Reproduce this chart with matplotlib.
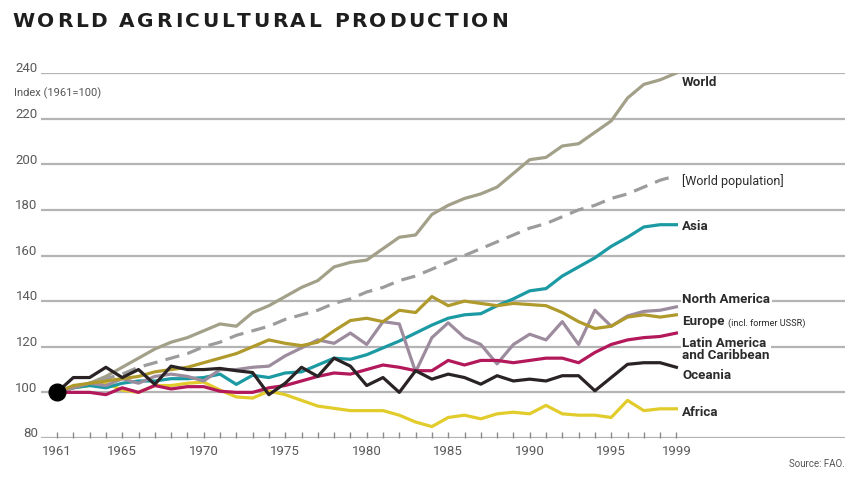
import matplotlib
matplotlib.use("Agg")
import matplotlib.pyplot as plt
import matplotlib.transforms as mtransforms

# ---------------- data ----------------
years = list(range(1961, 2000))

world = [100, 102, 104, 107, 111, 115, 119, 122, 124, 127, 130, 129, 135, 138, 142,
         146, 149, 155, 157, 158, 163, 168, 169, 178, 182, 185, 187, 190, 196, 202,
         203, 208, 209, 214, 219, 229, 235, 237, 240]

world_population = [100, 102, 104, 106, 108, 111, 113, 115, 117, 120, 122, 125, 127, 129,
                    132, 134, 136, 139, 141, 144, 146, 149, 151, 154, 157, 160, 163, 166,
                    169, 172, 174, 177, 180, 182, 185, 187, 190, 193, 195]

asia = [100, 102, 103, 102, 104, 105, 105, 106, 106, 106.5, 108, 103.5, 107.5, 106.5,
        108.5, 109, 112, 115, 114.5, 116.5, 119.5, 122.5, 126, 129.5, 132.5, 134, 134.5,
        138, 141, 144.5, 145.5, 151, 155, 159, 164, 168, 172.5, 173.5, 173.5]

north_america = [100, 102, 104, 103, 106, 104, 107, 108, 107, 105, 110, 110, 111, 111.5,
                 116, 119.5, 123, 121.5, 126, 121, 131, 130, 109, 124, 130.5, 124, 121,
                 112.5, 121, 125.5, 123, 131, 121, 136, 129, 133.5, 135.5, 136, 137.5]

europe = [100, 103, 104, 105, 106, 107, 109, 110, 111, 113, 115, 117, 120, 123, 121.5,
          120.5, 122, 127, 131.5, 132.5, 131, 136, 135, 142, 138, 140, 139, 138, 139,
          138.5, 138, 135, 131, 128, 129, 133, 134, 133, 134]

latin_america = [100, 100, 100, 99, 102, 100, 103, 101.5, 102.5, 102.5, 100.5, 100, 100,
                 102, 103, 105, 107, 108.5, 108, 110, 112, 111, 109.5, 109.5, 114, 112,
                 114, 114, 113, 114, 115, 115, 113, 117.5, 121, 123, 124, 124.5, 126]

oceania = [100, 106.5, 106.5, 111, 106.5, 110, 103.5, 111.5, 110, 110, 110.5, 109.5,
           108.7, 99, 104, 111, 107, 115, 111.5, 103, 106.5, 100, 109.5, 105.8, 108,
           106.5, 103.6, 107.3, 105, 105.8, 105, 107.3, 107.3, 100.7, 106.5, 112.3,
           113, 113, 111]

africa = [100, 102, 103, 104, 101, 100, 103, 103, 104, 104.5, 101, 98, 97.5, 100.5, 99,
          96.5, 94, 93, 92, 92, 92, 90, 87, 85, 89, 90, 88.4, 90.6, 91.3, 90.6, 94.3,
          90.6, 90, 90, 89, 96.5, 92, 92.8, 92.8]

y_ticks = [80, 100, 120, 140, 160, 180, 200, 220, 240]
x_label_years = [1961, 1965, 1970, 1975, 1980, 1985, 1990, 1995, 1999]

series_names = ["World", "[World population]", "Asia", "North America", "Europe",
                "Latin America\nand Caribbean", "Oceania", "Africa"]

# ---------------- style ----------------
FONT = "Roboto"
plt.rcParams["font.family"] = [FONT, "DejaVu Sans"]

W, H = 857, 480
fig = plt.figure(figsize=(W / 100, H / 100), dpi=100)
fig.patch.set_facecolor("white")

ax_left, ax_right = 41, 845
ax_top, ax_bottom = 73, 438
ax = fig.add_axes([ax_left / W, (H - ax_bottom) / H,
                   (ax_right - ax_left) / W, (ax_bottom - ax_top) / H])
px_per_year = 16.3
ax.set_xlim(1961 - (57 - ax_left) / px_per_year, 1961 + (ax_right - 57) / px_per_year)
ax.set_ylim(80, 240)
for s in ax.spines.values():
    s.set_visible(False)
ax.patch.set_alpha(0)

grid_col = "#b4b4b4"
for v in y_ticks:
    ax.axhline(v, color=grid_col, lw=1.6, zorder=1)

ytrans = mtransforms.blended_transform_factory(ax.transAxes, ax.transData)
for v in y_ticks:
    ax.text(-0.004, v + 0.3, str(v), transform=ytrans, ha="right", va="baseline",
            fontsize=9.5, color="#5a5a5a")

ax.set_yticks([])
ax.set_xticks(x_label_years)
ax.set_xticklabels([str(y) for y in x_label_years])
ax.set_xticks(years, minor=True)
ax.tick_params(axis="x", which="both", direction="in", length=4.5, width=1,
               color="#8a8a8a", labelsize=9.5, labelcolor="#5a5a5a", pad=5)

colors = {
    "world": "#a3a089",
    "pop": "#9c9c9c",
    "asia": "#1b9aa3",
    "na": "#9d8c9e",
    "europe": "#b09a2c",
    "latin": "#b2185a",
    "oceania": "#2a2326",
    "africa": "#e2cc2c",
}
lw = 2.3
ax.plot(years, world, color=colors["world"], lw=lw, zorder=3)
ax.plot(years, world_population, color=colors["pop"], lw=lw, zorder=3,
        linestyle=(0, (4.5, 2.6)))
ax.plot(years, africa, color=colors["africa"], lw=lw, zorder=3)
ax.plot(years, asia, color=colors["asia"], lw=lw, zorder=3)
ax.plot(years, north_america, color=colors["na"], lw=lw, zorder=3)
ax.plot(years, europe, color=colors["europe"], lw=lw, zorder=3)
ax.plot(years, latin_america, color=colors["latin"], lw=lw, zorder=3)
ax.plot(years, oceania, color=colors["oceania"], lw=lw, zorder=3)
ax.plot([years[0]], [world[0]], "o", ms=12, color="black", zorder=10)

# ---------------- right labels ----------------
label_y = [235.7, 192.7, 172.5, 140.6, 130.9, 118.9, 107.2, 91.0]
label_x = 1999.35
label_weight = ["bold", "normal", "bold", "bold", "bold", "bold", "bold", "bold"]
label_texts = list(series_names)
label_texts[4] = "Europe"
label_objs = []
for txt, yv, wt in zip(label_texts, label_y, label_weight):
    t = ax.text(label_x, yv, txt, ha="left", va="center", fontsize=9.6 if wt == "bold" else 9,
                fontweight=wt, color="#2b2b2b", linespacing=0.95, zorder=6,
                bbox=dict(facecolor="white", edgecolor="none", pad=1.2))
    label_objs.append(t)

fig.canvas.draw()
r = fig.canvas.get_renderer()
eu = label_objs[4]
bb = eu.get_window_extent(r)
x_end = ax.transData.inverted().transform((bb.x1 + 3, bb.y0))[0]
ax.text(x_end, label_y[4] - 0.4, "(incl. former USSR)", ha="left", va="center",
        fontsize=6.6, color="#2b2b2b", zorder=6)

# ---------------- title ----------------
title = "WORLD AGRICULTURAL PRODUCTION"
title_font = ["DejaVu Sans"]
tx0, tx1 = 12, 508
title_size = 14.5
base_y = 1 - 26.7 / H
widths = []
for ch in title:
    if ch == " ":
        widths.append(None)
        continue
    t = fig.text(0, 0, ch, fontsize=title_size, fontweight="bold", family=title_font)
    widths.append(t.get_window_extent(r).width)
    t.remove()
space_w = 7.0
glyph_total = sum(w for w in widths if w is not None) + space_w * title.count(" ")
track = (tx1 - tx0 - glyph_total) / (len(title) - 1)
x = tx0
for ch, w in zip(title, widths):
    if w is None:
        x += space_w + track
        continue
    fig.text(x / W, base_y, ch, fontsize=title_size, fontweight="bold",
             family=title_font, color="#1e1e1e", ha="left", va="baseline")
    x += w + track

fig.text(14 / W, 1 - 96 / H, "Index (1961=100)", fontsize=8, color="#555555",
         ha="left", va="baseline")
fig.text(845 / W, 1 - 467 / H, "Source: FAO.", fontsize=7, color="#555555",
         ha="right", va="baseline")

fig.savefig("out.png", dpi=100, facecolor="white")
